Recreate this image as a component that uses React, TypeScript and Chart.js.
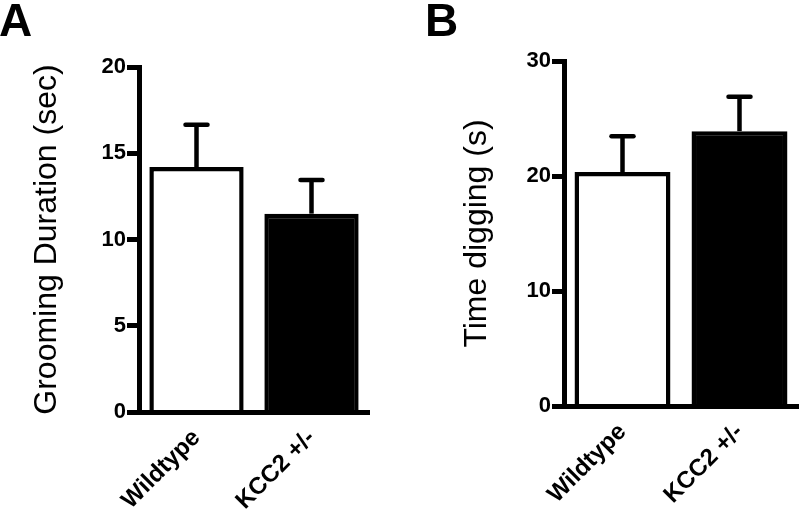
import React, { useEffect, useRef } from "react";
import { Chart, registerables } from "chart.js";

Chart.register(...registerables);

// ---- data ----
const categories = ["Wildtype", "KCC2 +/-"];
const groomingMeans = [14.2, 11.5];
const groomingSem = [2.45, 1.95];
const diggingMeans = [20.35, 23.9];
const diggingSem = [3.1, 3.0];
const groomingTicks = [0, 5, 10, 15, 20];
const diggingTicks = [0, 10, 20, 30];
const barFill = ["#ffffff", "#000000"];

const FONT = '"Liberation Sans", Arial, Helvetica, sans-serif';

const errorBarPlugin = {
  id: "errorBars",
  afterDatasetsDraw(chart: any, _args: any, opts: any) {
    const errs: number[] = opts.errors || [];
    const meta = chart.getDatasetMeta(0);
    const yScale = chart.scales.y;
    const values = chart.data.datasets[0].data as number[];
    const ctx = chart.ctx;
    ctx.save();
    ctx.strokeStyle = "#000";
    ctx.lineWidth = 4.5;
    meta.data.forEach((bar: any, i: number) => {
      const top = yScale.getPixelForValue(values[i] + errs[i]);
      ctx.beginPath();
      ctx.lineCap = "butt";
      ctx.moveTo(bar.x, bar.y);
      ctx.lineTo(bar.x, top);
      ctx.stroke();
      ctx.beginPath();
      ctx.lineCap = "round";
      ctx.moveTo(bar.x - 11, top);
      ctx.lineTo(bar.x + 11, top);
      ctx.stroke();
    });
    ctx.restore();
  },
};

type PanelProps = {
  means: number[];
  sems: number[];
  ticks: number[];
  title: string;
  yWidth: number;
  padTop: number;
  padRight: number;
  xHeight: number;
  titlePad: number;
};

function Panel(p: PanelProps) {
  const ref = useRef<HTMLCanvasElement>(null);
  useEffect(() => {
    if (!ref.current) return;
    const chart = new Chart(ref.current, {
      type: "bar",
      data: {
        labels: categories,
        datasets: [
          {
            data: p.means,
            backgroundColor: barFill,
            borderColor: "#000",
            borderWidth: 4.5,
            barPercentage: 0.82,
            categoryPercentage: 1,
          },
        ],
      },
      options: {
        responsive: false,
        animation: false,
        devicePixelRatio: 1,
        layout: { padding: { left: 0, top: p.padTop, right: p.padRight, bottom: 0 } },
        plugins: {
          legend: { display: false },
          tooltip: { enabled: false },
          errorBars: { errors: p.sems },
        } as any,
        scales: {
          x: {
            type: "category",
            offset: true,
            grid: { display: false, drawTicks: false, tickLength: 0 },
            border: { display: true, color: "#000", width: 5, z: 1 },
            ticks: {
              color: "#000",
              font: { family: FONT, size: 24, weight: "bold" },
              minRotation: 45,
              maxRotation: 45,
              autoSkip: false,
              padding: 12,
            },
            afterFit: (s: any) => {
              s.height = p.xHeight;
            },
          },
          y: {
            min: p.ticks[0],
            max: p.ticks[p.ticks.length - 1],
            grid: {
              display: true,
              drawOnChartArea: false,
              drawTicks: true,
              tickLength: 12,
              tickWidth: 5,
              tickColor: "#000",
            },
            border: { display: true, color: "#000", width: 5 },
            ticks: {
              color: "#000",
              font: { family: FONT, size: 22, weight: "bold" },
              padding: 1,
            },
            afterBuildTicks: (s: any) => {
              s.ticks = p.ticks.map((v) => ({ value: v }));
            },
            title: {
              display: true,
              text: p.title,
              color: "#000",
              font: { family: FONT, size: 32, weight: "normal", lineHeight: 1 },
              padding: { top: p.titlePad, bottom: 0 },
            },
            afterFit: (s: any) => {
              s.width = p.yWidth;
            },
          },
        },
      },
      plugins: [errorBarPlugin],
    } as any);
    return () => chart.destroy();
  }, []);
  return <canvas ref={ref} width={400} height={513} style={{ display: "block" }} />;
}

const panelLabel: React.CSSProperties = {
  position: "absolute",
  top: -3,
  fontFamily: FONT,
  fontWeight: "bold",
  fontSize: 46,
  lineHeight: "46px",
  color: "#000",
};

export default function App() {
  return (
    <div style={{ position: "absolute", left: 0, top: 0, width: 800, height: 513, background: "#fff" }}>
      <div style={{ position: "absolute", left: 0, top: 0 }}>
        <Panel
          means={groomingMeans}
          sems={groomingSem}
          ticks={groomingTicks}
          title="Grooming Duration (sec)"
          yWidth={139}
          padTop={67}
          padRight={31}
          xHeight={101}
          titlePad={31}
        />
      </div>
      <div style={{ position: "absolute", left: 400, top: 0 }}>
        <Panel
          means={diggingMeans}
          sems={diggingSem}
          ticks={diggingTicks}
          title="Time digging (s)"
          yWidth={164}
          padTop={61}
          padRight={2}
          xHeight={107}
          titlePad={61}
        />
      </div>
      <div style={{ ...panelLabel, left: -1 }}>A</div>
      <div style={{ ...panelLabel, left: 425 }}>B</div>
    </div>
  );
}
